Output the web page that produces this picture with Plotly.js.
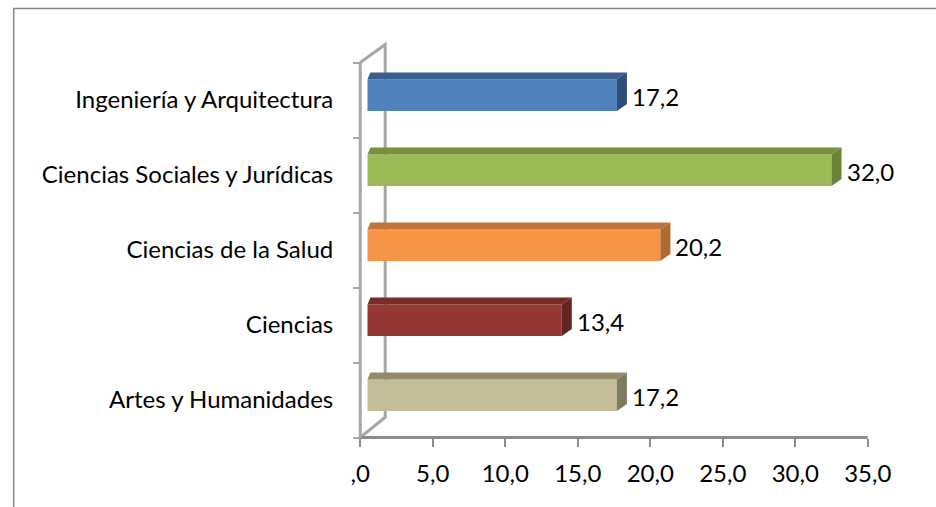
<!DOCTYPE html>
<html>
<head>
<meta charset="utf-8">
<script src="https://cdn.plot.ly/plotly-3.0.1.min.js"></script>
<style>
  body { margin: 0; background: #fff; }
  #chart { width: 936px; height: 507px; }
</style>
</head>
<body>
<div id="chart"></div>
<script>
// bottom to top, as the category axis draws them
var categories = ['Artes y Humanidades', 'Ciencias', 'Ciencias de la Salud',
                  'Ciencias Sociales y Jurídicas', 'Ingeniería y Arquitectura'];
var values = [17.2, 13.4, 20.2, 32.0, 17.2];
var front_colors = ['#C4BD97', '#953735', '#F79646', '#9BBB59', '#4F81BD'];
var top_colors = ['#948A6A', '#772C2A', '#C0733A', '#76923C', '#3A5F8E'];
var side_colors = ['#7F7B62', '#632523', '#B06A30', '#6A8437', '#2F4E75'];
var x_ticks = [0, 5, 10, 15, 20, 25, 30, 35];
var x_tick_labels = [',0', '5,0', '10,0', '15,0', '20,0', '25,0', '30,0', '35,0'];

// fake 3d look
var base = 0.5, bar_w = 0.42, bar_off = -0.145;
var dx_left = 0.2, dx_right = 0.69, dy = 0.093;
var wall_x = 1.72;
var font = 'Lato, "Open Sans", sans-serif';

function fmt(v) {
  return v.toFixed(1).replace('.', ',');
}

var data = [{
  type: 'bar',
  orientation: 'h',
  y: categories,
  x: values,
  base: base,
  width: bar_w,
  offset: bar_off,
  marker: {color: front_colors, line: {width: 0}},
  hoverinfo: 'skip'
}];

for (var i = 0; i < values.length; i++) {
  var y0 = i + bar_off, y1 = i + bar_off + bar_w;
  var x1 = base + values[i];
  // top face
  data.push({
    type: 'scatter', mode: 'lines', yaxis: 'y2', fill: 'toself',
    x: [base, base + dx_left, x1 + dx_right, x1, base],
    y: [y1, y1 + dy, y1 + dy, y1, y1],
    fillcolor: top_colors[i], line: {width: 0, color: top_colors[i]},
    hoverinfo: 'skip'
  });
  // side face
  data.push({
    type: 'scatter', mode: 'lines', yaxis: 'y2', fill: 'toself',
    x: [x1, x1 + dx_right, x1 + dx_right, x1, x1],
    y: [y1, y1 + dy, y0 + dy, y0, y1],
    fillcolor: side_colors[i], line: {width: 0, color: side_colors[i]},
    hoverinfo: 'skip'
  });
}

var annotations = [];
for (var i = 0; i < values.length; i++) {
  annotations.push({
    x: base + values[i] + dx_right,
    y: i,
    xref: 'x', yref: 'y2',
    text: fmt(values[i]),
    showarrow: false,
    xanchor: 'left',
    xshift: 3,
    yshift: 4,
    font: {family: font, size: 24, color: '#000'}
  });
}

var grey = '#8C8C8C';
var wall = '#A6A6A6';
var shapes = [
  // x axis line
  {type: 'line', xref: 'x', yref: 'y2', x0: 0, x1: 35, y0: -0.5, y1: -0.5,
   line: {color: grey, width: 3}},
  // y axis line
  {type: 'line', xref: 'x', yref: 'y2', x0: 0, x1: 0, y0: -0.5, y1: 4.5,
   line: {color: wall, width: 3}},
  // back wall outline
  {type: 'path', xref: 'x', yref: 'y2',
   path: 'M 0 4.5 L ' + wall_x + ' 4.74 L ' + wall_x + ' -0.23 L 0 -0.5',
   line: {color: wall, width: 3}, layer: 'below'},
  // outer frame
  {type: 'rect', xref: 'paper', yref: 'paper', x0: -0.65, x1: 1.2, y0: -0.3, y1: 1.078,
   line: {color: '#878787', width: 1.5}}
];

var layout = {
  width: 936,
  height: 507,
  margin: {l: 353, r: 61, t: 40, b: 62},
  paper_bgcolor: '#fff',
  plot_bgcolor: 'rgba(0,0,0,0)',
  showlegend: false,
  barmode: 'overlay',
  font: {family: font, size: 24, color: '#000'},
  xaxis: {
    range: [-0.5, 35.5],
    anchor: 'free',
    position: 7.5 / 405,
    tickvals: x_ticks,
    ticktext: x_tick_labels,
    ticks: 'outside',
    ticklen: 8,
    tickwidth: 2,
    tickcolor: grey,
    showgrid: false,
    zeroline: false,
    showline: false,
    ticklabelstandoff: 7,
    tickfont: {family: font, size: 24, color: '#000'}
  },
  yaxis: {
    type: 'category',
    range: [-0.6, 4.8],
    anchor: 'free',
    position: 7.25 / 522,
    tickson: 'boundaries',
    ticks: 'outside',
    ticklen: 7,
    tickwidth: 2,
    tickcolor: wall,
    showgrid: false,
    zeroline: false,
    showline: false,
    ticklabelstandoff: 27,
    tickfont: {family: font, size: 24, color: '#000'}
  },
  yaxis2: {
    range: [-0.6, 4.8],
    overlaying: 'y',
    visible: false,
    showgrid: false,
    zeroline: false
  },
  annotations: annotations,
  shapes: shapes
};

Plotly.newPlot('chart', data, layout, {displayModeBar: false, staticPlot: true});
</script>
</body>
</html>
